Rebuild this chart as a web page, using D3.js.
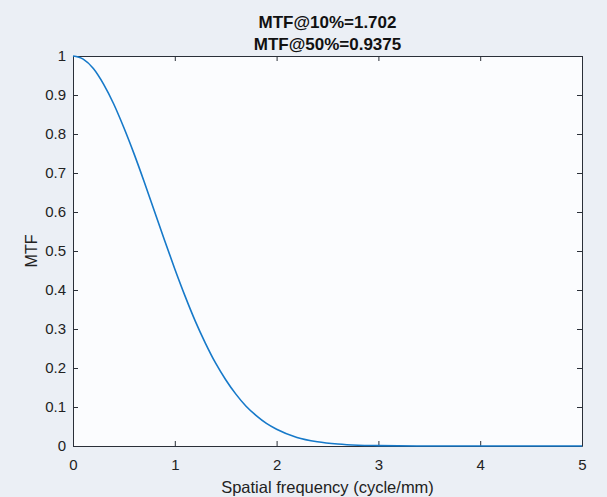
<!DOCTYPE html>
<html>
<head>
<meta charset="utf-8">
<script src="https://d3js.org/d3.v7.min.js"></script>
<style>
  body { margin: 0; background: #ebeff5; }
  svg { display: block; font-family: "Liberation Sans", Arial, sans-serif; }
</style>
</head>
<body>
<svg></svg>
<script>
    // values
    var freq = [0, 0.1, 0.2, 0.3, 0.4, 0.5, 0.6, 0.7, 0.8, 0.9, 1.0, 1.1, 1.2, 1.3, 1.4,
                1.5, 1.6, 1.7, 1.8, 1.9, 2.0, 2.2, 2.4, 2.6, 2.8, 3.0, 3.5, 4.0, 4.5, 5.0];
    var mtf = [1, 0.992, 0.968, 0.928, 0.877, 0.816, 0.749, 0.677, 0.602, 0.527, 0.454, 0.385,
               0.321, 0.264, 0.213, 0.170, 0.133, 0.102, 0.078, 0.058, 0.043, 0.022, 0.011,
               0.005, 0.002, 0.001, 0, 0, 0, 0];
    var xTicks = [0, 1, 2, 3, 4, 5];
    var yTicks = [0, 0.1, 0.2, 0.3, 0.4, 0.5, 0.6, 0.7, 0.8, 0.9, 1];
    var titleLines = ["MTF@10%=1.702", "MTF@50%=0.9375"];

    var width = 607, height = 497;
    var margin = {left: 73, right: 25, top: 56, bottom: 51};

    var svg = d3.select('svg').attr('width', width).attr('height', height);

    var x = d3.scaleLinear().domain([0, 5]).range([margin.left, width - margin.right]);
    var y = d3.scaleLinear().domain([0, 1]).range([height - margin.bottom, margin.top]);

    // plot area
    svg.append('rect')
        .attr('x', x(0)).attr('y', y(1))
        .attr('width', x(5) - x(0)).attr('height', y(0) - y(1))
        .attr('fill', '#fbfcfe');

    function fmt(d) { return d3.format('~g')(d); }

    var axBottom = svg.append('g')
        .attr('transform', 'translate(0,' + y(0) + ')')
        .call(d3.axisBottom(x).tickValues(xTicks).tickFormat(fmt).tickSizeInner(-5).tickSizeOuter(0).tickPadding(13));
    var axTop = svg.append('g')
        .attr('transform', 'translate(0,' + y(1) + ')')
        .call(d3.axisTop(x).tickValues(xTicks).tickFormat('').tickSizeInner(-5).tickSizeOuter(0));
    var axLeft = svg.append('g')
        .attr('transform', 'translate(' + x(0) + ',0)')
        .call(d3.axisLeft(y).tickValues(yTicks).tickFormat(fmt).tickSizeInner(-5).tickSizeOuter(0).tickPadding(7));
    var axRight = svg.append('g')
        .attr('transform', 'translate(' + x(5) + ',0)')
        .call(d3.axisRight(y).tickValues(yTicks).tickFormat('').tickSizeInner(-5).tickSizeOuter(0));

    [axBottom, axTop, axLeft, axRight].forEach(function (a) {
        a.select('.domain').attr('stroke', '#2a2f38');
        a.selectAll('.tick line').attr('stroke', '#2a2f38');
        a.selectAll('.tick text').attr('fill', '#222').style('font-size', '15px');
    });

    var line = d3.line()
        .x(function (d, i) { return x(freq[i]); })
        .y(function (d) { return y(d); })
        .curve(d3.curveMonotoneX);

    svg.append('path')
        .datum(mtf)
        .attr('d', line)
        .attr('fill', 'none')
        .attr('stroke', '#1679c9')
        .attr('stroke-width', 1.6);

    // title
    svg.selectAll('.title')
        .data(titleLines)
        .enter().append('text')
        .attr('class', 'title')
        .attr('x', (x(0) + x(5)) / 2)
        .attr('y', function (d, i) { return 27.5 + i * 22.5; })
        .attr('text-anchor', 'middle')
        .style('font-size', '17px')
        .style('font-weight', 'bold')
        .attr('fill', '#111')
        .text(function (d) { return d; });

    svg.append('text')
        .attr('x', (x(0) + x(5)) / 2)
        .attr('y', 493)
        .attr('text-anchor', 'middle')
        .style('font-size', '16.5px')
        .attr('fill', '#222')
        .text('Spatial frequency (cycle/mm)');

    svg.append('text')
        .attr('transform', 'translate(37,' + y(0.5) + ')rotate(-90)')
        .attr('text-anchor', 'middle')
        .style('font-size', '16px')
        .attr('fill', '#222')
        .text('MTF');
</script>
</body>
</html>
